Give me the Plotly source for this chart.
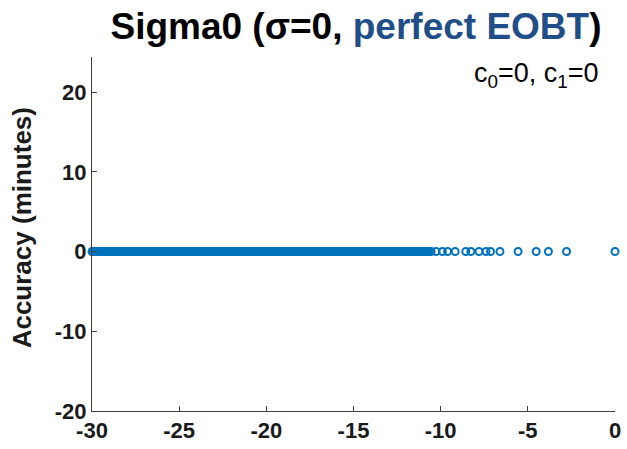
import plotly.graph_objects as go

# Time before event (minutes) for the dense set of predictions
eobt_time_dense = [
    -30.0, -29.85, -29.7, -29.55, -29.4, -29.25, -29.1,
    -29.0, -28.85, -28.7, -28.55, -28.4, -28.25, -28.1,
    -28.0, -27.85, -27.7, -27.55, -27.4, -27.25, -27.1,
    -27.0, -26.85, -26.7, -26.55, -26.4, -26.25, -26.1,
    -26.0, -25.85, -25.7, -25.55, -25.4, -25.25, -25.1,
    -25.0, -24.85, -24.7, -24.55, -24.4, -24.25, -24.1,
    -24.0, -23.85, -23.7, -23.55, -23.4, -23.25, -23.1,
    -23.0, -22.85, -22.7, -22.55, -22.4, -22.25, -22.1,
    -22.0, -21.85, -21.7, -21.55, -21.4, -21.25, -21.1,
    -21.0, -20.85, -20.7, -20.55, -20.4, -20.25, -20.1,
    -20.0, -19.85, -19.7, -19.55, -19.4, -19.25, -19.1,
    -19.0, -18.85, -18.7, -18.55, -18.4, -18.25, -18.1,
    -18.0, -17.85, -17.7, -17.55, -17.4, -17.25, -17.1,
    -17.0, -16.85, -16.7, -16.55, -16.4, -16.25, -16.1,
    -16.0, -15.85, -15.7, -15.55, -15.4, -15.25, -15.1,
    -15.0, -14.85, -14.7, -14.55, -14.4, -14.25, -14.1,
    -14.0, -13.85, -13.7, -13.55, -13.4, -13.25, -13.1,
    -13.0, -12.85, -12.7, -12.55, -12.4, -12.25, -12.1,
    -12.0, -11.85, -11.7, -11.55, -11.4, -11.25, -11.1,
    -11.0, -10.85, -10.7, -10.55,
]
eobt_time_dense_2 = [
    -29.925, -29.775, -29.625, -29.475, -29.325, -29.175, -29.05,
    -28.925, -28.775, -28.625, -28.475, -28.325, -28.175, -28.05,
    -27.925, -27.775, -27.625, -27.475, -27.325, -27.175, -27.05,
    -26.925, -26.775, -26.625, -26.475, -26.325, -26.175, -26.05,
    -25.925, -25.775, -25.625, -25.475, -25.325, -25.175, -25.05,
    -24.925, -24.775, -24.625, -24.475, -24.325, -24.175, -24.05,
    -23.925, -23.775, -23.625, -23.475, -23.325, -23.175, -23.05,
    -22.925, -22.775, -22.625, -22.475, -22.325, -22.175, -22.05,
    -21.925, -21.775, -21.625, -21.475, -21.325, -21.175, -21.05,
    -20.925, -20.775, -20.625, -20.475, -20.325, -20.175, -20.05,
    -19.925, -19.775, -19.625, -19.475, -19.325, -19.175, -19.05,
    -18.925, -18.775, -18.625, -18.475, -18.325, -18.175, -18.05,
    -17.925, -17.775, -17.625, -17.475, -17.325, -17.175, -17.05,
    -16.925, -16.775, -16.625, -16.475, -16.325, -16.175, -16.05,
    -15.925, -15.775, -15.625, -15.475, -15.325, -15.175, -15.05,
    -14.925, -14.775, -14.625, -14.475, -14.325, -14.175, -14.05,
    -13.925, -13.775, -13.625, -13.475, -13.325, -13.175, -13.05,
    -12.925, -12.775, -12.625, -12.475, -12.325, -12.175, -12.05,
    -11.925, -11.775, -11.625, -11.475, -11.325, -11.175, -11.05,
    -10.925, -10.775, -10.625,
]
# Sparse predictions close to the event
eobt_time_sparse = [-10.26, -9.9, -9.6, -9.17, -8.56, -8.27, -7.8, -7.4,
                    -7.14, -6.6, -5.56, -4.52, -3.82, -2.78, 0.0]

time_values = eobt_time_dense + eobt_time_dense_2 + eobt_time_sparse
accuracy_values = [0.0] * len(time_values)  # perfect EOBT: all errors are zero

x_ticks = [-30, -25, -20, -15, -10, -5, 0]
y_ticks = [-20, -10, 0, 10, 20]

W, H = 627, 449
L, R, T, B = 92, 6, 57, 37
pw, ph = W - L - R, H - T - B

fig = go.Figure()
fig.add_trace(go.Scatter(
    x=time_values, y=accuracy_values, mode="markers",
    marker=dict(symbol="circle-open", size=7, color="#0072BD",
                line=dict(width=2, color="#0072BD")),
    showlegend=False, hoverinfo="skip", cliponaxis=False,
))

axis_common = dict(
    showgrid=False, zeroline=False, showline=True, linecolor="#404040",
    linewidth=1, ticks="inside", ticklen=5, tickcolor="#404040",
    tickfont=dict(family="Liberation Sans, Arial", size=22, color="#1a1a1a",
                  weight="bold"),
    mirror=False, ticklabeloverflow="allow",
)
fig.update_xaxes(range=[-30, 0], tickvals=x_ticks, ticktext=[str(v) for v in x_ticks],
                 **axis_common)
fig.update_yaxes(range=[-20, 24.4], tickvals=y_ticks, ticktext=[str(v) for v in y_ticks],
                 **axis_common)

fig.update_layout(
    width=W, height=H, autosize=False,
    margin=dict(l=L, r=R, t=T, b=B),
    paper_bgcolor="white", plot_bgcolor="white",
    title=dict(
        text="Sigma0 (σ=0, <span style='color:#1f4e88'>perfect EOBT</span>)",
        font=dict(family="Liberation Sans, Arial", size=37, color="black", weight="bold"),
        x=356 / W, xanchor="center", xref="container",
        y=1 - 26 / H, yanchor="middle", yref="container",
    ),
)

fig.add_annotation(
    text="Accuracy (minutes)", textangle=-90,
    xref="paper", yref="paper",
    x=(21 - L) / pw, y=(H - B - 228) / ph,
    xanchor="center", yanchor="middle", showarrow=False,
    font=dict(family="Liberation Sans, Arial", size=26, color="#1a1a1a", weight="bold"),
)
fig.add_annotation(
    text="c<sub>0</sub>=0, c<sub>1</sub>=0",
    xref="paper", yref="paper",
    x=(607 - L) / pw, y=(H - B - 75) / ph,
    xanchor="right", yanchor="middle", showarrow=False,
    font=dict(family="Liberation Sans, Arial", size=27, color="black"),
)

fig.write_html("out.html")
